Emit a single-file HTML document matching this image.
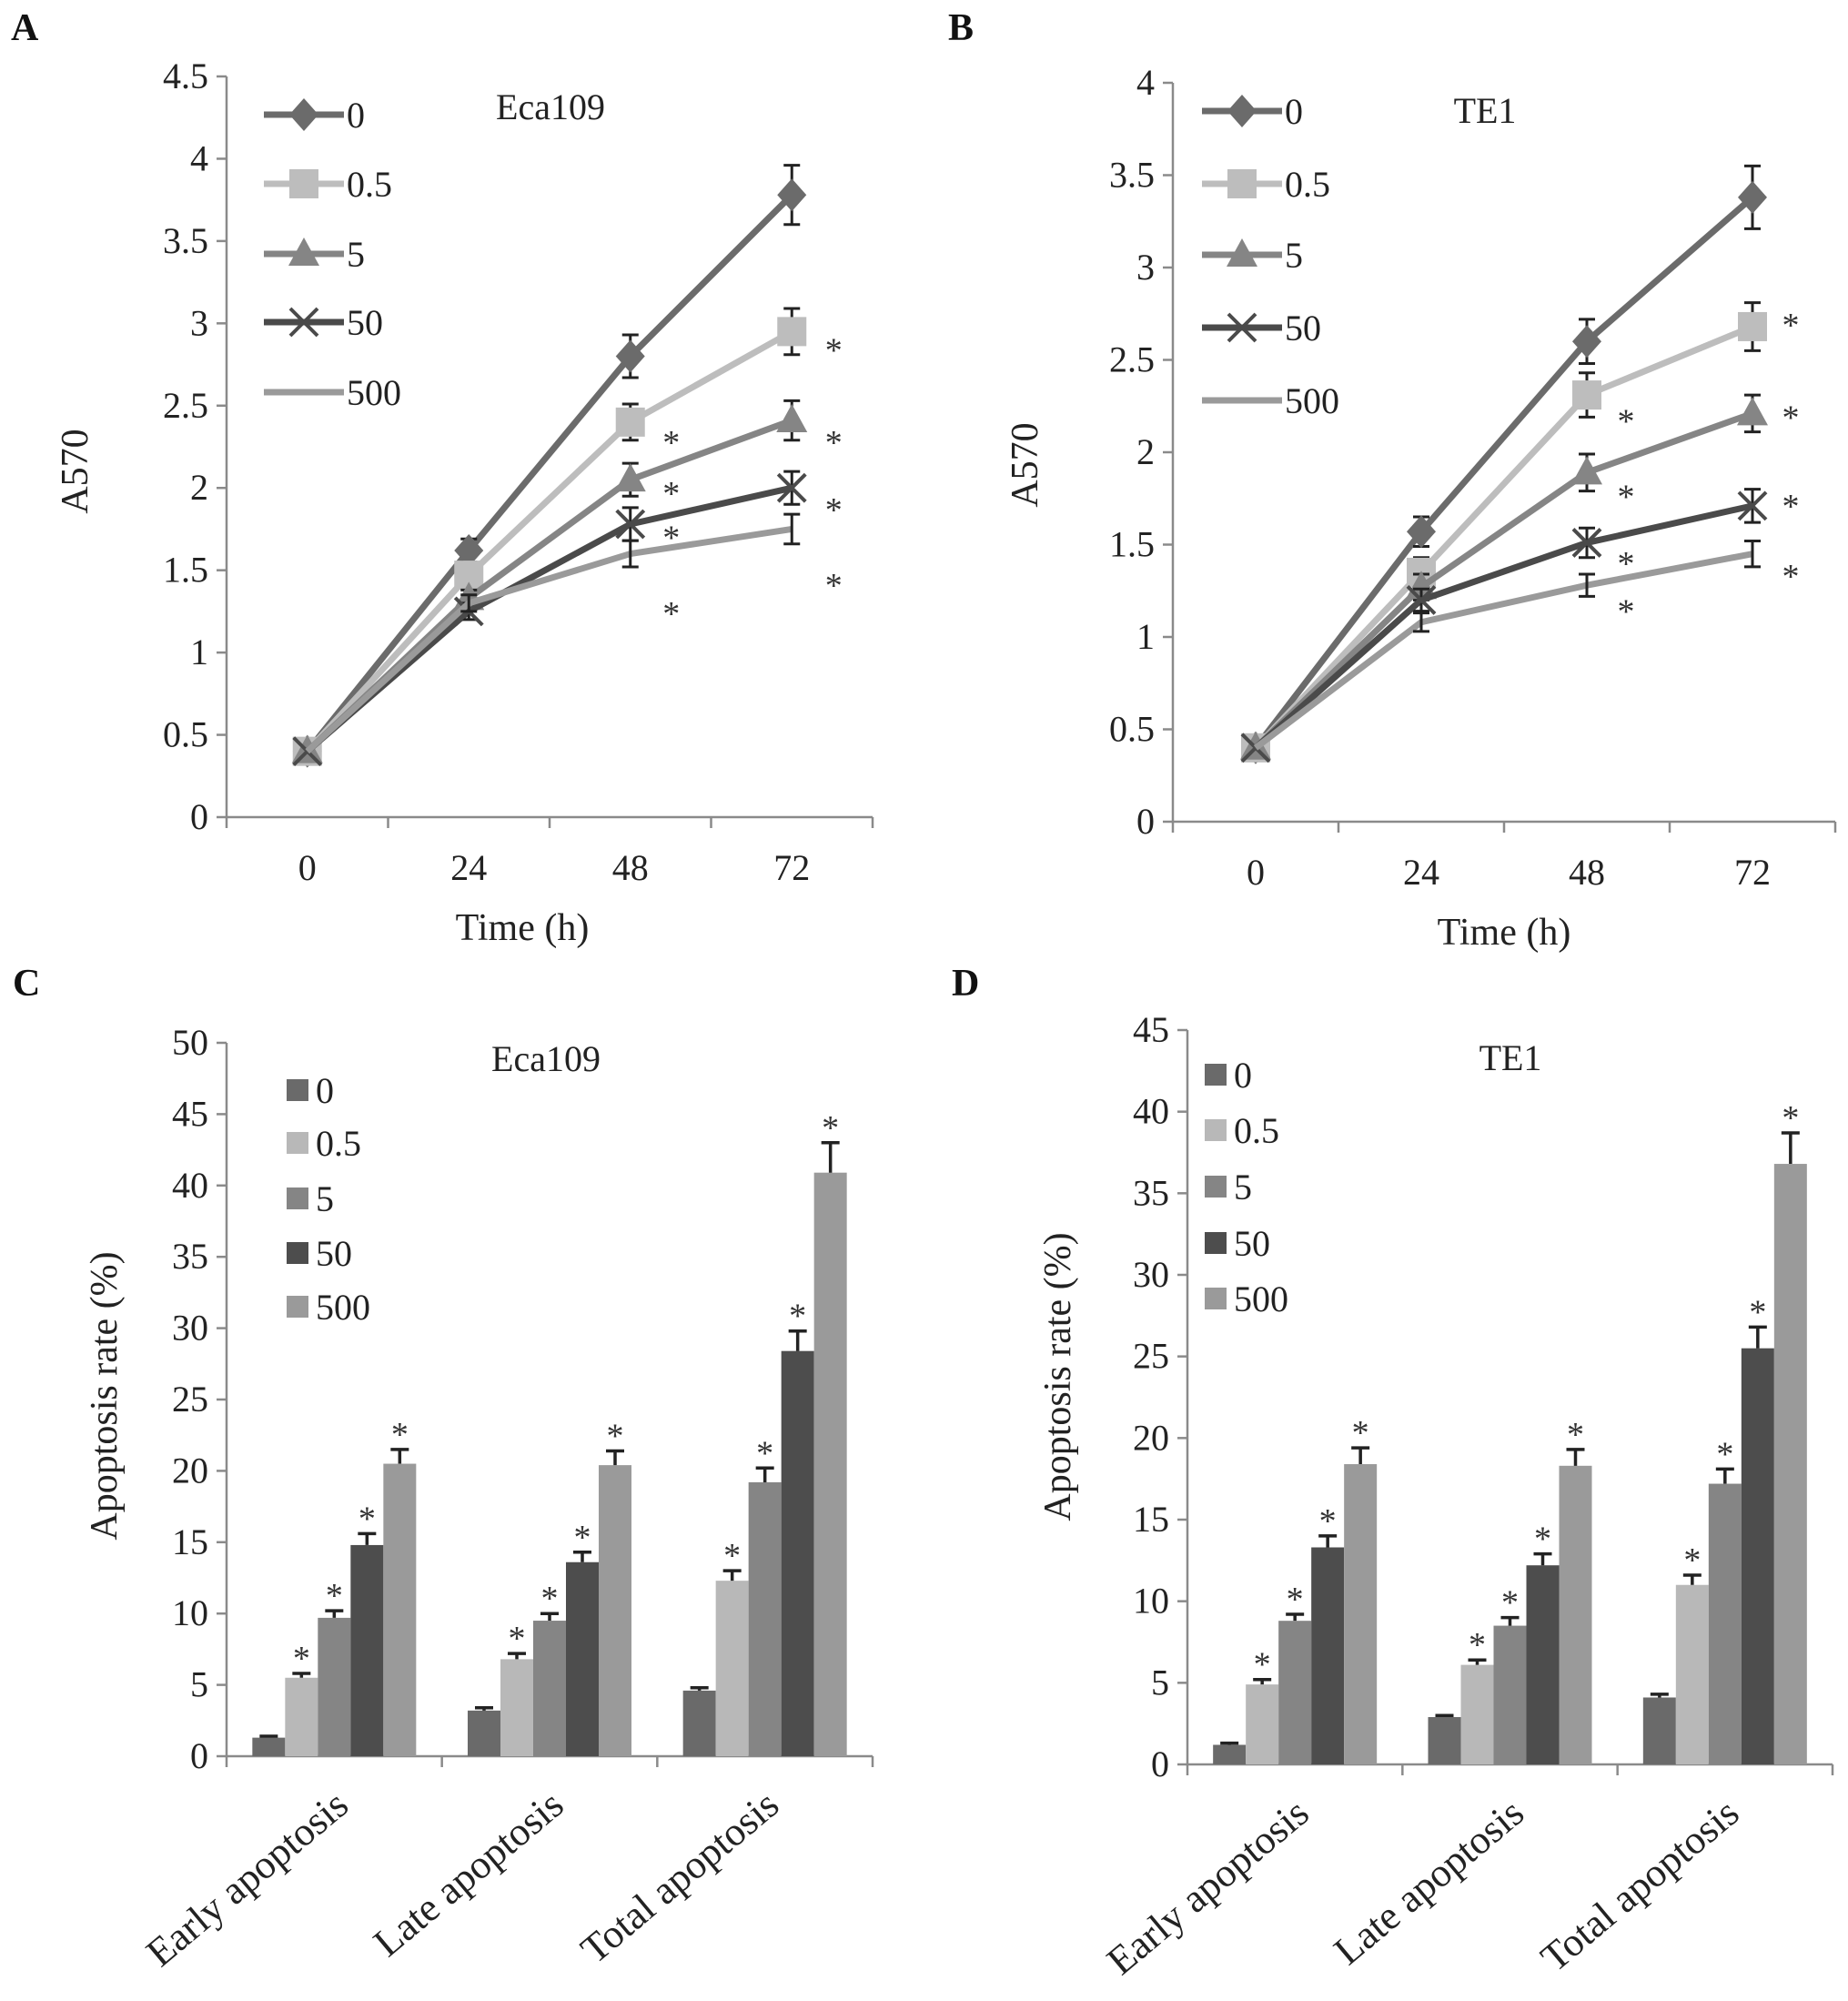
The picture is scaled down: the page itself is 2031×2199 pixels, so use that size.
<!DOCTYPE html>
<html><head><meta charset="utf-8"><style>
html,body{margin:0;padding:0;background:#fff}
svg{display:block;font-family:"Liberation Serif",serif}
</style></head><body>
<svg id="fig" width="2031" height="2199" viewBox="0 0 2031 2199" xmlns="http://www.w3.org/2000/svg"></svg>
<script>
// ---------- data ----------
const timeCats = ['0','24','48','72'];
const doseNames = ['0','0.5','5','50','500'];
// Panel A (Eca109)
const aVals0 = [0.4,1.62,2.8,3.78];
const aVals05 = [0.4,1.47,2.4,2.95];
const aVals5 = [0.4,1.33,2.05,2.41];
const aVals50 = [0.4,1.25,1.78,2.0];
const aVals500 = [0.4,1.3,1.6,1.75];
const aErr0 = [0,0.07,0.13,0.18];
const aErr05 = [0,0.06,0.11,0.14];
const aErr5 = [0,0.05,0.1,0.12];
const aErr50 = [0,0.05,0.1,0.1];
const aErr500 = [0,0.05,0.08,0.09];
const aStars48 = [2.29,1.98,1.71,1.25];
const aStars72 = [2.85,2.29,1.88,1.42];
const aTicks = ['0','0.5','1','1.5','2','2.5','3','3.5','4','4.5'];
// Panel B (TE1)
const bVals0 = [0.4,1.57,2.6,3.38];
const bVals05 = [0.4,1.35,2.31,2.68];
const bVals5 = [0.4,1.27,1.89,2.21];
const bVals50 = [0.4,1.2,1.51,1.71];
const bVals500 = [0.4,1.08,1.28,1.45];
const bErr0 = [0,0.08,0.12,0.17];
const bErr05 = [0,0.08,0.12,0.13];
const bErr5 = [0,0.07,0.1,0.1];
const bErr50 = [0,0.06,0.08,0.09];
const bErr500 = [0,0.05,0.06,0.07];
const bStars48 = [2.18,1.77,1.41,1.15];
const bStars72 = [2.70,2.2,1.72,1.34];
const bTicks = ['0','0.5','1','1.5','2','2.5','3','3.5','4'];
// Panel C (Eca109 apoptosis)
const apoCats = ['Early apoptosis','Late apoptosis','Total apoptosis'];
const cEarly = [1.3,5.5,9.7,14.8,20.5];
const cLate = [3.2,6.8,9.5,13.6,20.4];
const cTotal = [4.6,12.3,19.2,28.4,40.9];
const cEarlyErr = [0.1,0.3,0.5,0.8,1.0];
const cLateErr = [0.2,0.4,0.5,0.7,1.0];
const cTotalErr = [0.2,0.7,1.0,1.4,2.1];
const cTicks = ['0','5','10','15','20','25','30','35','40','45','50'];
// Panel D (TE1 apoptosis)
const dEarly = [1.2,4.9,8.8,13.3,18.4];
const dLate = [2.9,6.1,8.5,12.2,18.3];
const dTotal = [4.1,11.0,17.2,25.5,36.8];
const dEarlyErr = [0.1,0.3,0.4,0.7,1.0];
const dLateErr = [0.1,0.3,0.5,0.7,1.0];
const dTotalErr = [0.2,0.6,0.9,1.3,1.9];
const dTicks = ['0','5','10','15','20','25','30','35','40','45'];

const lineColors = ['#6b6b6b','#bdbdbd','#858585','#4a4a4a','#9a9a9a'];
const barColors = ['#6a6a6a','#b8b8b8','#858585','#4d4d4d','#9a9a9a'];
const markers = ['diamond','square','triangle','x','none'];

const NS='http://www.w3.org/2000/svg';
const svg=document.getElementById('fig');
function el(tag,attrs,parent,text){const e=document.createElementNS(NS,tag);for(const k in attrs)e.setAttribute(k,attrs[k]);if(text!==undefined)e.textContent=text;(parent||svg).appendChild(e);return e;}
const AX='#8a8a8a';
const FS=40;

function panelLabel(t,x,y){
  const e=el('text',{x:x,y:y,'font-size':42,'font-weight':'bold',fill:'#111'},svg,t);
  
  
}

function marker(g,type,cx,cy,color){
  let m;
  if(type==='diamond') m=el('polygon',{points:`${cx},${cy-18} ${cx+16},${cy} ${cx},${cy+18} ${cx-16},${cy}`,fill:color},g);
  else if(type==='square') m=el('rect',{x:cx-16,y:cy-16,width:32,height:32,fill:color},g);
  else if(type==='triangle') m=el('polygon',{points:`${cx},${cy-18} ${cx+17},${cy+13} ${cx-17},${cy+13}`,fill:color},g);
  else if(type==='x') m=el('path',{d:`M${cx-15},${cy-15}L${cx+15},${cy+15}M${cx+15},${cy-15}L${cx-15},${cy+15}`,stroke:color,'stroke-width':4,fill:'none'},g);
  return m;
}

function linePanel(o){
  const g=el('g',{});
  
  
  const n=o.ticks.length-1;
  const ymax=+o.ticks[n];
  const yS=v=>o.y0-(v/ymax)*(o.y0-o.yTop);
  const step=(o.xEnd-o.x0)/timeCats.length;
  const xS=i=>o.x0+step*(i+0.5);
  const ax=el('path',{d:`M${o.x0},${o.yTop}V${o.y0}H${o.xEnd}`,stroke:AX,'stroke-width':2.5,fill:'none'},g);
  
  
  o.ticks.forEach(t=>{
    const y=yS(+t);
    el('line',{x1:o.x0-11,x2:o.x0,y1:y,y2:y,stroke:AX,'stroke-width':2.5},g);
    const tl=el('text',{x:o.x0-20,y:y+13,'text-anchor':'end','font-size':FS,fill:'#222'},g,t);
    
    
  });
  for(let i=0;i<=timeCats.length;i++){const x=o.x0+step*i;el('line',{x1:x,x2:x,y1:o.y0,y2:o.y0+12,stroke:AX,'stroke-width':2.5},g);}
  timeCats.forEach((c,i)=>{
    const tl=el('text',{x:xS(i),y:o.y0+69,'text-anchor':'middle','font-size':FS,fill:'#222'},g,c);
    
    
  });
  const xt=el('text',{x:o.xtX,y:o.y0+135,'text-anchor':'middle','font-size':42,fill:'#222'},g,'Time (h)');
  
  
  const yt=el('text',{x:0,y:0,'text-anchor':'middle','font-size':42,fill:'#222',transform:`translate(${o.ytX},${o.ytY}) rotate(-90)`},g,'A570');
  
  
  const tt=el('text',{x:o.titleX,y:o.titleY,'text-anchor':'middle','font-size':40,fill:'#222'},g,o.title);
  
  
  o.series.forEach((s,k)=>{
    const sg=el('g',{},g);
    
    
    const pts=s.map((v,i)=>xS(i)+','+yS(v)).join(' ');
    el('polyline',{points:pts,fill:'none',stroke:lineColors[k],'stroke-width':7,'stroke-linejoin':'round'},sg);
    s.forEach((v,i)=>{
      const e=o.errs[k][i];
      if(e>0){
        const x=xS(i);
        el('path',{d:`M${x},${yS(v-e)}V${yS(v+e)}M${x-9},${yS(v-e)}H${x+9}M${x-9},${yS(v+e)}H${x+9}`,stroke:'#222','stroke-width':3,fill:'none'},sg);
      }
      const m=marker(sg,markers[k],xS(i),yS(v),lineColors[k]);
      if(m){}
    });
  });
  o.stars48.forEach(v=>{const s=el('text',{x:xS(2)+o.starDx48,y:yS(v)+15,'text-anchor':'middle','font-size':38,fill:'#333'},g,'*');});
  o.stars72.forEach(v=>{const s=el('text',{x:xS(3)+o.starDx72,y:yS(v)+15,'text-anchor':'middle','font-size':38,fill:'#333'},g,'*');});
  const lg=el('g',{},g);
  
  
  doseNames.forEach((d,k)=>{
    const y=o.legY[k];
    const eg=el('g',{},lg);
    
    
    el('line',{x1:o.legX1,x2:o.legX2,y1:y,y2:y,stroke:lineColors[k],'stroke-width':7},eg);
    marker(eg,markers[k],(o.legX1+o.legX2)/2,y,lineColors[k]);
    el('text',{x:o.legX2+3,y:y+14,'font-size':FS,fill:'#222'},eg,d);
  });
}

function barPanel(o){
  const g=el('g',{});
  
  
  const n=o.ticks.length-1;
  const ymax=+o.ticks[n];
  const yS=v=>o.y0-(v/ymax)*(o.y0-o.yTop);
  const gw=(o.xEnd-o.x0)/apoCats.length;
  const bw=o.bw;
  const ax=el('path',{d:`M${o.x0},${o.yTop}V${o.y0}H${o.xEnd}`,stroke:AX,'stroke-width':2.5,fill:'none'},g);
  
  
  o.ticks.forEach(t=>{
    const y=yS(+t);
    el('line',{x1:o.x0-11,x2:o.x0,y1:y,y2:y,stroke:AX,'stroke-width':2.5},g);
    const tl=el('text',{x:o.x0-20,y:y+13,'text-anchor':'end','font-size':FS,fill:'#222'},g,t);
    
    
  });
  for(let i=0;i<=apoCats.length;i++){const x=o.x0+gw*i;el('line',{x1:x,x2:x,y1:o.y0,y2:o.y0+12,stroke:AX,'stroke-width':2.5},g);}
  const groups=[o.early,o.late,o.total];
  const gerr=[o.earlyErr,o.lateErr,o.totalErr];
  groups.forEach((vals,gi)=>{
    const cx=o.x0+gw*(gi+0.5);
    const start=cx-bw*vals.length/2;
    vals.forEach((v,k)=>{
      const x=start+k*bw;
      const r=el('rect',{x:x,y:yS(v),width:bw,height:o.y0-yS(v),fill:barColors[k]},g);
      
      
      const e=gerr[gi][k];const xm=x+bw/2;
      el('path',{d:`M${xm},${yS(v)}V${yS(v+e)}M${xm-10},${yS(v+e)}H${xm+10}`,stroke:'#222','stroke-width':3.5,fill:'none'},g);
      if(k>0){const s=el('text',{x:xm,y:yS(v+e)-4,'text-anchor':'middle','font-size':38,fill:'#333'},g,'*');}
    });
    const lx=cx+18,ly=o.y0+58;
    const cl=el('text',{x:0,y:0,'text-anchor':'end','font-size':44,fill:'#222',transform:`translate(${lx},${ly}) rotate(-40)`},g,apoCats[gi]);
    
    
  });
  const yt=el('text',{x:0,y:0,'text-anchor':'middle','font-size':42,fill:'#222',transform:`translate(${o.ytX},${o.ytY}) rotate(-90)`},g,'Apoptosis rate  (%)');
  
  
  const tt=el('text',{x:o.titleX,y:o.titleY,'text-anchor':'middle','font-size':40,fill:'#222'},g,o.title);
  
  
  const lg=el('g',{},g);
  
  
  doseNames.forEach((d,k)=>{
    const y=o.legY[k];
    const eg=el('g',{},lg);
    
    
    el('rect',{x:o.legX,y:y-12,width:24,height:24,fill:barColors[k]},eg);
    el('text',{x:o.legX+32,y:y+14,'font-size':FS,fill:'#222'},eg,d);
  });
}

panelLabel('A',12,44);
panelLabel('B',1042,44);
panelLabel('C',14,1094);
panelLabel('D',1046,1094);

linePanel({name:'chart-a-eca109-viability',ticks:aTicks,x0:249,xEnd:959,y0:898,yTop:84,
  series:[aVals0,aVals05,aVals5,aVals50,aVals500],errs:[aErr0,aErr05,aErr5,aErr50,aErr500],
  stars48:aStars48,stars72:aStars72,starDx48:45,starDx72:46,title:'Eca109',titleX:605,titleY:131,
  xtX:574,ytX:96,ytY:518,legX1:290,legX2:378,legY:[126,202,279,354,431]});
linePanel({name:'chart-b-te1-viability',ticks:bTicks,x0:1289,xEnd:2017,y0:903,yTop:91,
  series:[bVals0,bVals05,bVals5,bVals50,bVals500],errs:[bErr0,bErr05,bErr5,bErr50,bErr500],
  stars48:bStars48,stars72:bStars72,starDx48:43,starDx72:42,title:'TE1',titleX:1632,titleY:135,
  xtX:1653,ytX:1140,ytY:511,legX1:1321,legX2:1409,legY:[122,202,280,360,440]});
barPanel({name:'chart-c-eca109-apoptosis',ticks:cTicks,x0:249,xEnd:959,y0:1930,yTop:1146,bw:36,
  early:cEarly,late:cLate,total:cTotal,earlyErr:cEarlyErr,lateErr:cLateErr,totalErr:cTotalErr,
  ytX:128,ytY:1534,title:'Eca109',titleX:600,titleY:1177,legX:315,legY:[1198,1256,1317,1377,1436]});
barPanel({name:'chart-d-te1-apoptosis',ticks:dTicks,x0:1305,xEnd:2014,y0:1939,yTop:1132,bw:36,
  early:dEarly,late:dLate,total:dTotal,earlyErr:dEarlyErr,lateErr:dLateErr,totalErr:dTotalErr,
  ytX:1176,ytY:1513,title:'TE1',titleX:1660,titleY:1176,legX:1324,legY:[1181,1242,1304,1366,1427]});
</script>
</body></html>
